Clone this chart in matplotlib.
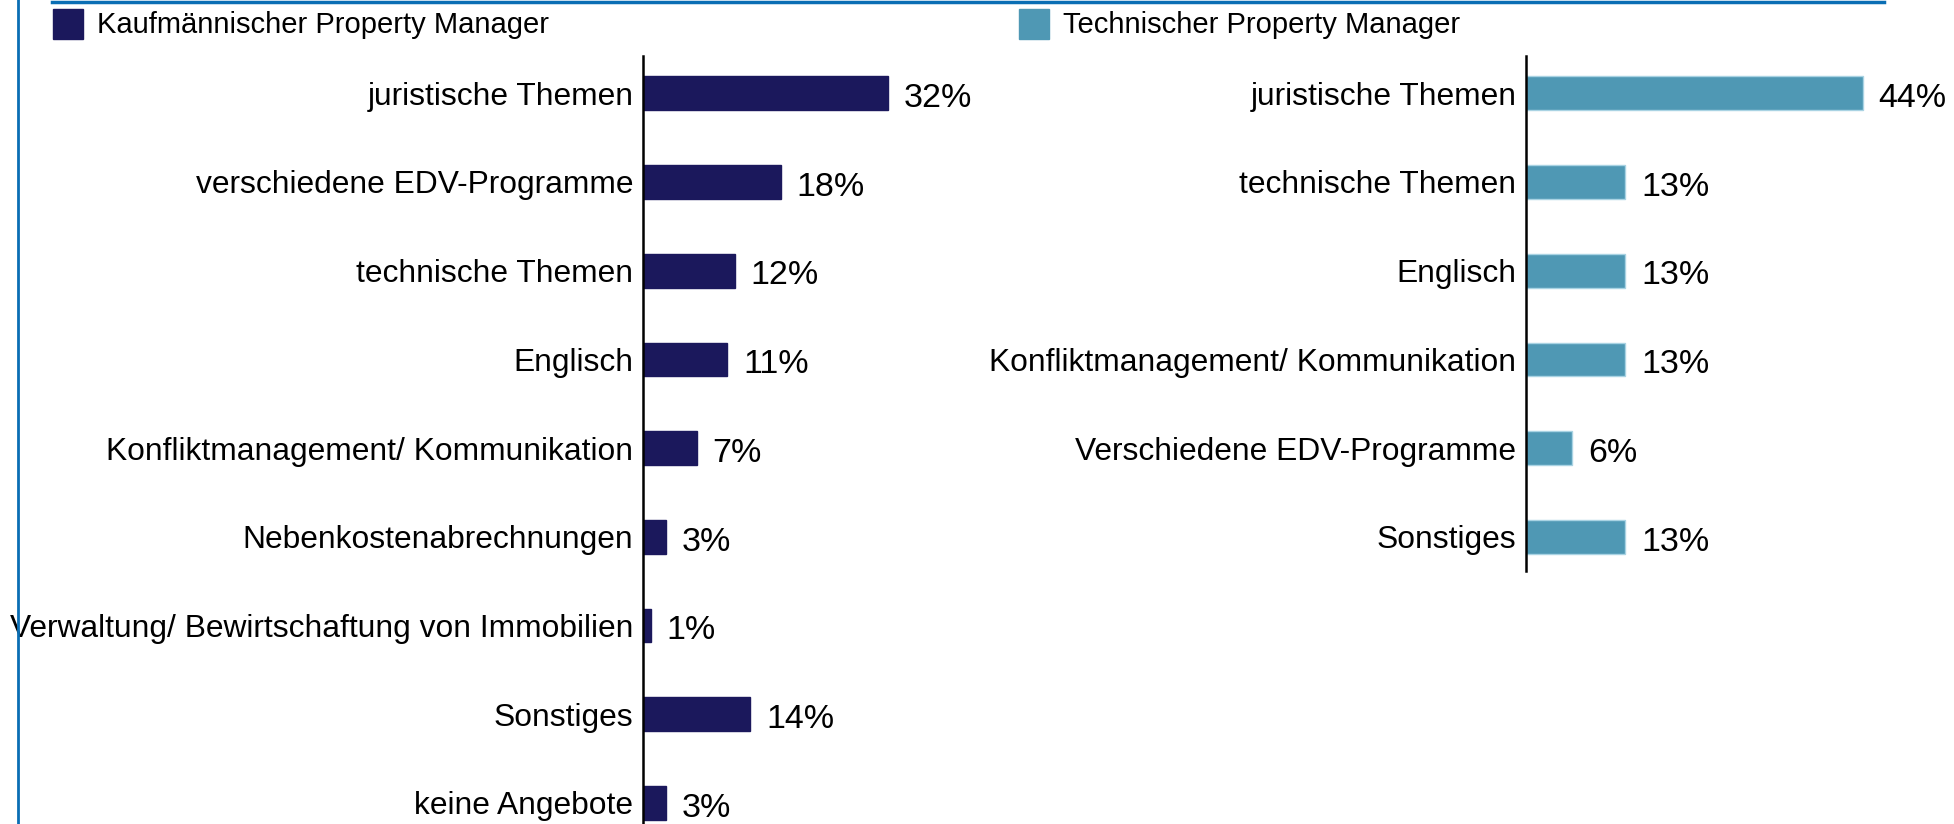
import matplotlib
matplotlib.use("Agg")
import matplotlib.pyplot as plt
from matplotlib.patches import Rectangle
from matplotlib.lines import Line2D

plt.rcParams['font.family'] = ['Liberation Sans', 'DejaVu Sans']

# Data
left_title = "Kaufmännischer Property Manager"
left_categories = ["juristische Themen", "verschiedene EDV-Programme", "technische Themen",
                   "Englisch", "Konfliktmanagement/ Kommunikation", "Nebenkostenabrechnungen",
                   "Verwaltung/ Bewirtschaftung von Immobilien", "Sonstiges", "keine Angebote"]
left_values = [32, 18, 12, 11, 7, 3, 1, 14, 3]

right_title = "Technischer Property Manager"
right_categories = ["juristische Themen", "technische Themen", "Englisch",
                    "Konfliktmanagement/ Kommunikation", "Verschiedene EDV-Programme", "Sonstiges"]
right_values = [44, 13, 13, 13, 6, 13]

W, H = 1954, 824
fig = plt.figure(figsize=(W / 100, H / 100), dpi=100)

NAVY = "#1B185C"
TEAL = "#4F98B4"
FRAME = "#0A6EB4"

px_per_pct = 7.65
spacing = 88.7
top_px = 56


def make_axes(left_px, xmax, bottom_px):
    height_px = bottom_px - top_px
    ax = fig.add_axes([left_px / W, 1 - bottom_px / H, xmax * px_per_pct / W, height_px / H])
    ax.set_xlim(0, xmax)
    ax.set_ylim(-0.42 + height_px / spacing, -0.42)
    for s in ["top", "right", "bottom"]:
        ax.spines[s].set_visible(False)
    ax.spines["left"].set_linewidth(1.8)
    ax.spines["left"].set_color("black")
    ax.set_xticks([])
    ax.tick_params(axis="y", length=0, pad=7, labelsize=22.9)
    ax.patch.set_alpha(0)
    return ax


def draw(ax, cats, vals, color, edge):
    y = list(range(len(cats)))
    ax.barh(y, vals, height=0.38, color=color, edgecolor=edge, linewidth=1.0)
    ax.set_yticks(y)
    ax.set_yticklabels(cats)
    for yi, v in zip(y, vals):
        ax.text(v + 16 / px_per_pct, yi + 0.06, f"{v}%", va="center", ha="left", fontsize=24.5)


axl = make_axes(643, 40, 824 + 40)
draw(axl, left_categories, left_values, NAVY, NAVY)
axr = make_axes(1526, 50, 571)
draw(axr, right_categories, right_values, TEAL, "#A9D3E3")


def legend(x_sq, x_txt, color, label):
    fig.patches.append(Rectangle((x_sq / W, 1 - 39 / H), 30 / W, 30 / H,
                                 transform=fig.transFigure, color=color, figure=fig))
    fig.text(x_txt / W, 1 - 25 / H, label, va="center", ha="left", fontsize=21)

legend(53, 97, NAVY, left_title)
legend(1019, 1063, TEAL, right_title)

# Frame lines
fig.lines.append(Line2D([52 / W, 1884 / W], [1 - 1.5 / H, 1 - 1.5 / H], transform=fig.transFigure,
                        color=FRAME, linewidth=2.5, figure=fig))
fig.lines.append(Line2D([18 / W, 18 / W], [0, 1], transform=fig.transFigure,
                        color=FRAME, linewidth=2.0, figure=fig))

fig.savefig("out.png", dpi=100)
